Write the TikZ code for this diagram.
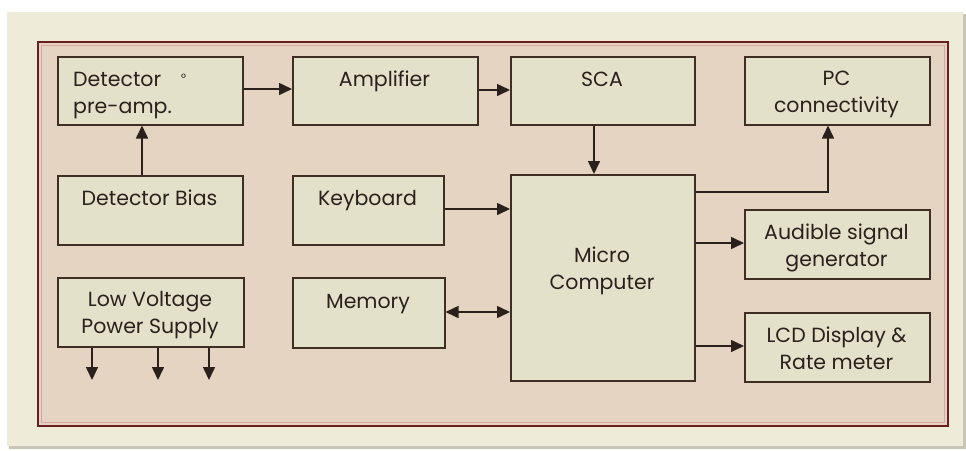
\documentclass[tikz,border=0pt]{standalone}
\usepackage{fontspec}
\setmainfont{Poppins}
\usetikzlibrary{arrows.meta}
\definecolor{panel}{HTML}{EEEBD8}
\definecolor{shadow}{HTML}{C9C6B8}
\definecolor{framefill}{HTML}{E6D4C2}
\definecolor{frameline}{HTML}{6A1E1E}
\definecolor{framepink}{HTML}{D9A8A0}
\definecolor{boxfill}{HTML}{E4E1CB}
\definecolor{boxline}{HTML}{3E2E24}
\definecolor{ink}{HTML}{2A211C}
\tikzset{
  blk/.style={draw=boxline, line width=1.5pt, fill=boxfill, anchor=north west, inner sep=0pt},
  lbl/.style={text=ink, font=\fontsize{20.5}{27}\selectfont, align=center, inner sep=0pt, anchor=base},
  conn/.style={draw=ink, line width=1.6pt, -{Triangle[length=13pt,width=12pt]}},
  conn2/.style={draw=ink, line width=1.6pt, {Triangle[length=13pt,width=12pt]}-{Triangle[length=13pt,width=12pt]}}
}
\begin{document}
\begin{tikzpicture}[x=1pt,y=-1pt]
\useasboundingbox (0,0) rectangle (966,450);
\fill[white] (0,0) rectangle (966,450);
% outer panel with shadow
\fill[shadow] (9,14) rectangle (966,449);
\fill[panel] (7,12) rectangle (963,446);
% frame
\fill[framefill] (38,42) rectangle (948,426);
\draw[framepink, line width=1pt] (41.5,45.5) rectangle (944.5,422.5);
\draw[frameline, line width=2.4pt] (38,42) rectangle (948,426);

% blocks
\node[blk, minimum width=185, minimum height=68] (det) at (57,56) {};
\node[blk, minimum width=185, minimum height=68] (amp) at (292,56) {};
\node[blk, minimum width=184, minimum height=68] (sca) at (510,56) {};
\node[blk, minimum width=185, minimum height=68] (pc) at (744,56) {};
\node[blk, minimum width=185, minimum height=69] (bias) at (57,175) {};
\node[blk, minimum width=151, minimum height=69] (kbd) at (292,175) {};
\node[blk, minimum width=184, minimum height=206] (mc) at (510,174) {};
\node[blk, minimum width=185, minimum height=69] (aud) at (744,209) {};
\node[blk, minimum width=186, minimum height=69] (lv) at (57,277) {};
\node[blk, minimum width=152, minimum height=70] (mem) at (292,277) {};
\node[blk, minimum width=185, minimum height=69] (lcd) at (744,312) {};

% labels (base anchor = baseline of the last line)
\node[lbl, anchor=base west, align=left] (tdet) at (73,113) {Detector\hspace{20pt}\raisebox{4pt}{\fontsize{12}{12}\selectfont °}\\pre-amp.};
\node[lbl] (tamp) at (384.5,86) {Amplifier};
\node[lbl] (tsca) at (602,86) {SCA};
\node[lbl] (tpc) at (836.5,112) {PC\\connectivity};
\node[lbl] (tbias) at (149.5,205) {Detector Bias};
\node[lbl] (tkbd) at (367.5,205) {Keyboard};
\node[lbl] (tmc) at (602,289) {Micro\\Computer};
\node[lbl] (taud) at (836.5,266) {Audible signal\\generator};
\node[lbl] (tlv) at (150,333) {Low Voltage\\Power Supply};
\node[lbl] (tmem) at (368,308) {Memory};
\node[lbl] (tlcd) at (836.5,369) {LCD Display \&\\Rate meter};

% output coordinates of power supply
\coordinate (o1) at (92,380);
\coordinate (o2) at (158,380);
\coordinate (o3) at (209,380);

% connectors
\draw[conn] (det.east |- 0,89) -- (amp.west |- 0,89);
\draw[conn] (amp.east |- 0,90) -- (sca.west |- 0,90);
\draw[conn] (bias.north -| 142,0) -- (det.south -| 142,0);
\draw[conn] (sca.south -| 594,0) -- (mc.north -| 594,0);
\draw[conn] (mc.east |- 0,192) -| (pc.south -| 828,0);
\draw[conn] (kbd.east |- 0,209) -- (mc.west |- 0,209);
\draw[conn2] (mem.east |- 0,312) -- (mc.west |- 0,312);
\draw[conn] (mc.east |- 0,243) -- (aud.west |- 0,243);
\draw[conn] (mc.east |- 0,346) -- (lcd.west |- 0,346);
\draw[conn] (lv.south -| o1) -- (o1);
\draw[conn] (lv.south -| o2) -- (o2);
\draw[conn] (lv.south -| o3) -- (o3);
\end{tikzpicture}
\end{document}
